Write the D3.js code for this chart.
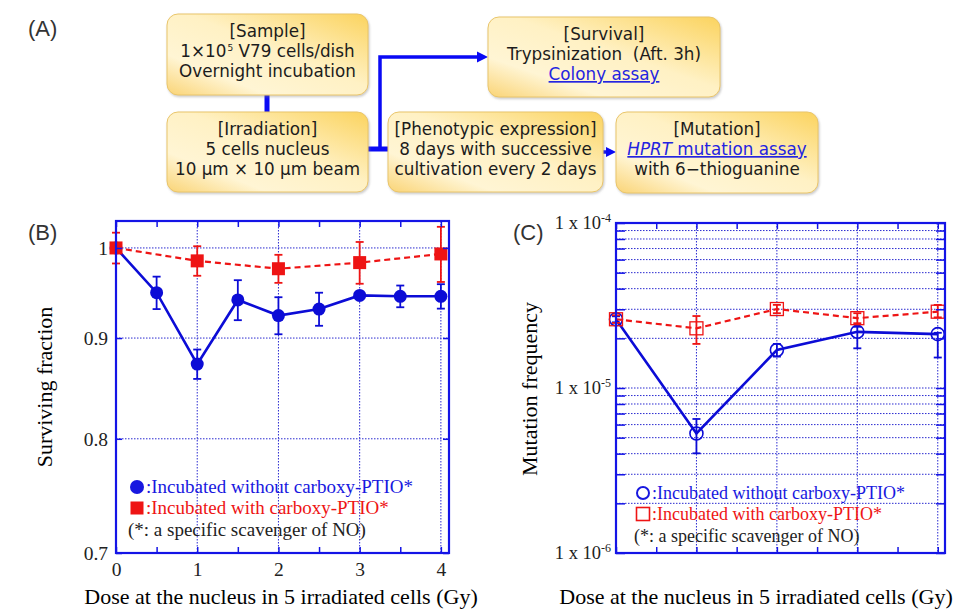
<!DOCTYPE html>
<html>
<head>
<meta charset="utf-8">
<title>Survival and mutation after 5-cell nucleus irradiation</title>
<style>
body { margin: 0; background: #fff; }
svg { display: block; }
.flow text { font-family: "DejaVu Sans", sans-serif; font-size: 16.8px; fill: #1c1c1c; white-space: pre; }
.serif { font-family: "Liberation Serif", "Times New Roman", serif; }
.plabel { font-family: "Liberation Sans", Arial, sans-serif; font-size: 22px; fill: #333; }
.grid line { stroke: #2a2ad0; stroke-width: 1; stroke-dasharray: 1.5,1.5; }
.frame { fill: none; stroke: #1414e6; stroke-width: 2.2; }
.axis path { display: none; }
.axis line { stroke: #1414e6; stroke-width: 1.5; }
.axis text { font-family: "Liberation Serif", "Times New Roman", serif; fill: #222; }
</style>
</head>
<body>
<svg width="955" height="612"></svg>

<script src="https://cdn.jsdelivr.net/npm/d3@7"></script>
<script>

// ---- data ----
// (B) surviving fraction
var doseB = [0, 0.5, 1, 1.5, 2, 2.5, 3, 3.5, 4];
var survWithout = [1.0, 0.949, 0.873, 0.941, 0.924, 0.931, 0.946, 0.945, 0.945];
var survWithoutErr = [0, 0.018, 0.015, 0.022, 0.020, 0.018, 0.004, 0.012, 0.0135];
var doseBWith = [0, 1, 2, 3, 4];
var survWith = [1.0, 0.985, 0.976, 0.983, 0.993];
var survWithErr = [0.018, 0.017, 0.016, 0.024, 0.032];
var survTicks = [0.7, 0.8, 0.9, 1];

// (C) mutation frequency
var doseC = [0, 1, 2, 3, 4];
var mutWithout = [2.61e-5, 5.3e-6, 1.70e-5, 2.19e-5, 2.12e-5];
var mutWithoutLo = [2.50e-5, 4.02e-6, 1.55e-5, 1.74e-5, 1.53e-5];
var mutWithoutHi = [2.72e-5, 6.49e-6, 1.85e-5, 2.35e-5, 2.16e-5];
var mutWith = [2.61e-5, 2.30e-5, 3.01e-5, 2.65e-5, 2.90e-5];
var mutWithLo = [2.48e-5, 1.85e-5, 2.84e-5, 2.47e-5, 2.68e-5];
var mutWithHi = [2.76e-5, 2.73e-5, 3.19e-5, 2.84e-5, 3.19e-5];
var mutTicks = [1e-6, 1e-5, 1e-4];

var doseTicks = [0, 1, 2, 3, 4];
var doseMinor = [0, 0.5, 1, 1.5, 2, 2.5, 3, 3.5, 4];

var xTitle = "Dose at the nucleus in 5 irradiated cells (Gy)";
var legendWithout = ":Incubated without carboxy-PTIO*";
var legendWith = ":Incubated with carboxy-PTIO*";
var legendNote = "(*: a specific scavenger of NO)";

var blue = "#0c0cd6", red = "#ee1414";

var svg = d3.select("svg");
var defs = svg.append("defs");

// ---------------- (A) flow chart ----------------
var grad = defs.append("linearGradient").attr("id", "boxfill")
    .attr("x1", 1).attr("y1", 0).attr("x2", 0).attr("y2", 1);
grad.append("stop").attr("offset", 0).attr("stop-color", "#fbd35e");
grad.append("stop").attr("offset", 0.45).attr("stop-color", "#fff1c4");
grad.append("stop").attr("offset", 0.75).attr("stop-color", "#fff5d4");
grad.append("stop").attr("offset", 1).attr("stop-color", "#fad476");

var shadow = defs.append("filter").attr("id", "shadow")
    .attr("x", "-10%").attr("y", "-10%").attr("width", "130%").attr("height", "130%");
shadow.append("feDropShadow").attr("dx", 1).attr("dy", 1.5).attr("stdDeviation", 1.2)
    .attr("flood-color", "#888").attr("flood-opacity", 0.45);

// each line is a list of segments
var boxes = [
  {x: 167, y: 14, w: 201, h: 81, lines: [
    [{t: "[Sample]"}],
    [{t: "1×10"}, {t: "5", sup: true}, {t: " V79 cells/dish"}],
    [{t: "Overnight incubation"}]]},
  {x: 167, y: 112, w: 201, h: 80, lines: [
    [{t: "[Irradiation]"}],
    [{t: "5 cells nucleus"}],
    [{t: "10 μm × 10 μm beam"}]]},
  {x: 388, y: 112, w: 215, h: 80, lines: [
    [{t: "[Phenotypic expression]"}],
    [{t: "8 days with successive"}],
    [{t: "cultivation every 2 days"}]]},
  {x: 488, y: 17, w: 232, h: 80, lines: [
    [{t: "[Survival]"}],
    [{t: "Trypsinization\u00a0 (Aft. 3h)"}],
    [{t: "Colony assay", link: true}]]},
  {x: 616, y: 112, w: 202, h: 81, lines: [
    [{t: "[Mutation]"}],
    [{t: "HPRT", link: true, italic: true}, {t: " mutation assay", link: true}],
    [{t: "with 6−thioguanine"}]]}
];

var flow = svg.append("g").attr("class", "flow");

// connectors first, boxes on top
var conn = flow.append("g").attr("stroke", "#0a0af5").attr("fill", "none");
conn.append("line").attr("x1", 267).attr("x2", 267).attr("y1", 94).attr("y2", 113).attr("stroke-width", 5);
conn.append("line").attr("x1", 367).attr("x2", 389).attr("y1", 149).attr("y2", 149).attr("stroke-width", 5);
conn.append("path").attr("d", "M380,151 V57 H480").attr("stroke-width", 3.5);
conn.append("line").attr("x1", 602).attr("x2", 609).attr("y1", 152).attr("y2", 152).attr("stroke-width", 3.5);
flow.append("path").attr("d", "M488,57 L477,51.5 L477,62.5 Z").attr("fill", "#0a0af5");
flow.append("path").attr("d", "M616,152 L606,147 L606,157 Z").attr("fill", "#0a0af5");

var box = flow.selectAll("g.box").data(boxes).enter().append("g").attr("class", "box");
box.append("rect")
    .attr("x", function(d) { return d.x; }).attr("y", function(d) { return d.y; })
    .attr("width", function(d) { return d.w; }).attr("height", function(d) { return d.h; })
    .attr("rx", 11).attr("ry", 11)
    .attr("fill", "url(#boxfill)").attr("stroke", "#e9c56a").attr("stroke-width", 1)
    .attr("filter", "url(#shadow)");

box.each(function(d) {
  var g = d3.select(this);
  d.lines.forEach(function(segs, i) {
    var t = g.append("text")
        .attr("x", d.x + d.w / 2)
        .attr("y", d.y + 23 + 20 * i)
        .attr("text-anchor", "middle");
    segs.forEach(function(s) {
      var sp = t.append("tspan").text(s.t);
      if (s.sup) sp.attr("font-size", "9px").attr("dy", "-6").attr("dx", "1");
      if (s.link) sp.style("fill", "#2424e0").style("text-decoration", "underline");
      if (s.italic) sp.style("font-style", "italic");
    });
    // bring baseline back after a superscript
    if (segs.some(function(s) { return s.sup; })) {
      t.selectAll("tspan").filter(function(s, j) { return j === 2; }).attr("dy", "6");
    }
  });
});

svg.append("text").attr("class", "plabel").attr("x", 28).attr("y", 36).text("(A)");

// ---------------- helpers ----------------
function grid(g, xs, ys, x, y) {
  var gg = g.append("g").attr("class", "grid");
  gg.selectAll("line.v").data(xs).enter().append("line")
      .attr("x1", x).attr("x2", x)
      .attr("y1", y.range()[1]).attr("y2", y.range()[0]);
  gg.selectAll("line.h").data(ys).enter().append("line")
      .attr("x1", x.range()[0]).attr("x2", x.range()[1])
      .attr("y1", y).attr("y2", y)
      .attr("stroke", "#1a1a90");
}

function series(g, xs, vs, lo, hi, x, y, o) {
  var pts = xs.map(function(d, i) { return {x: d, v: vs[i], lo: lo[i], hi: hi[i]}; });
  g.append("path").datum(pts)
      .attr("fill", "none").attr("stroke", o.color).attr("stroke-width", o.lw)
      .attr("stroke-dasharray", o.dash || null)
      .attr("d", d3.line().x(function(d) { return x(d.x); }).y(function(d) { return y(d.v); }));
  var eb = g.append("g").attr("stroke", o.color).attr("stroke-width", 1.8);
  pts.forEach(function(p) {
    if (p.hi <= p.lo) return;
    var cx = x(p.x);
    eb.append("line").attr("x1", cx).attr("x2", cx).attr("y1", y(p.hi)).attr("y2", y(p.lo));
    eb.append("line").attr("x1", cx - 4).attr("x2", cx + 4).attr("y1", y(p.hi)).attr("y2", y(p.hi));
    eb.append("line").attr("x1", cx - 4).attr("x2", cx + 4).attr("y1", y(p.lo)).attr("y2", y(p.lo));
  });
  var m = g.append("g");
  if (o.shape === "circle") {
    m.selectAll("circle").data(pts).enter().append("circle")
        .attr("cx", function(d) { return x(d.x); }).attr("cy", function(d) { return y(d.v); })
        .attr("r", o.size)
        .attr("fill", o.open ? "none" : o.color).attr("stroke", o.color)
        .attr("stroke-width", o.open ? 1.6 : 0);
  } else {
    m.selectAll("rect").data(pts).enter().append("rect")
        .attr("x", function(d) { return x(d.x) - o.size; }).attr("y", function(d) { return y(d.v) - o.size; })
        .attr("width", o.size * 2).attr("height", o.size * 2)
        .attr("fill", o.open ? "none" : o.color).attr("stroke", o.color)
        .attr("stroke-width", o.open ? 1.3 : 0);
  }
}

function frameAxes(g, x, y, yTickVals, ySize, xLabels) {
  g.append("g").attr("class", "axis")
      .attr("transform", "translate(0," + y.range()[0] + ")")
      .call(d3.axisBottom(x).tickValues(doseMinor).tickSizeInner(-6).tickSizeOuter(0).tickPadding(9)
        .tickFormat(function(d) { return xLabels && Number.isInteger(d) ? d : ""; }))
      .selectAll("text").attr("font-size", 19.5);
  g.append("g").attr("class", "axis")
      .attr("transform", "translate(0," + y.range()[1] + ")")
      .call(d3.axisTop(x).tickValues(doseMinor).tickSizeInner(-6).tickSizeOuter(0).tickFormat(""));
  g.append("g").attr("class", "axis")
      .attr("transform", "translate(" + x.range()[1] + ",0)")
      .call(d3.axisRight(y).tickValues(yTickVals).tickSizeInner(-ySize).tickSizeOuter(0).tickFormat(""));
  g.append("rect").attr("class", "frame")
      .attr("x", x.range()[0]).attr("y", y.range()[1])
      .attr("width", x.range()[1] - x.range()[0]).attr("height", y.range()[0] - y.range()[1]);
}

function legend(g, x0, y0, open, fs) {
  var items = [
    {label: legendWithout, color: "#1818e0", kind: "circle"},
    {label: legendWith, color: red, kind: "square"}
  ];
  items.forEach(function(it, i) {
    var cy = y0 + 21 * i;
    if (it.kind === "circle") {
      g.append("circle").attr("cx", x0).attr("cy", cy).attr("r", open ? 6 : 7)
          .attr("fill", open ? "none" : it.color).attr("stroke", it.color).attr("stroke-width", open ? 2 : 0);
    } else {
      g.append("rect").attr("x", x0 - 6.5).attr("y", cy - 6.5).attr("width", 13).attr("height", 13)
          .attr("fill", open ? "none" : it.color).attr("stroke", it.color).attr("stroke-width", open ? 1.6 : 0);
    }
    g.append("text").attr("class", "serif").attr("x", x0 + 9).attr("y", cy + 6)
        .attr("font-size", fs).attr("fill", it.color).text(it.label);
  });
  g.append("text").attr("class", "serif").attr("x", x0 - 9).attr("y", y0 + 49)
      .attr("font-size", fs).attr("fill", "#222").text(legendNote);
}

// ---------------- (B) surviving fraction ----------------
var xB = d3.scaleLinear().domain([0, 4.1]).range([116, 449]);
var yB = d3.scaleLog().domain([0.7, 1.032]).range([553, 221]);
var gB = svg.append("g");

grid(gB, doseTicks.slice(1), survTicks.slice(1), xB, yB);
series(gB, doseB, survWithout,
    survWithout.map(function(v, i) { return v - survWithoutErr[i]; }),
    survWithout.map(function(v, i) { return v + survWithoutErr[i]; }),
    xB, yB, {color: blue, lw: 2.6, shape: "circle", size: 6.5});
series(gB, doseBWith, survWith,
    survWith.map(function(v, i) { return v - survWithErr[i]; }),
    survWith.map(function(v, i) { return v + survWithErr[i]; }),
    xB, yB, {color: red, lw: 2.2, dash: "6,4", shape: "square", size: 6.5});

gB.append("g").attr("class", "axis")
    .attr("transform", "translate(" + xB.range()[0] + ",0)")
    .call(d3.axisLeft(yB).tickValues(survTicks).tickSizeInner(-6).tickSizeOuter(0).tickPadding(8)
      .tickFormat(function(d) { return d === 1 ? "1" : d3.format(".1f")(d); }))
    .selectAll("text").attr("font-size", 19.5);
frameAxes(gB, xB, yB, survTicks, 6, true);
legend(gB, 137, 487, false, 19);

gB.append("text").attr("class", "serif").attr("font-size", 22)
    .attr("text-anchor", "middle").attr("x", 281).attr("y", 604).text(xTitle);
gB.append("text").attr("class", "serif").attr("font-size", 22)
    .attr("text-anchor", "middle")
    .attr("transform", "translate(52,387) rotate(-90)").text("Surviving fraction");
svg.append("text").attr("class", "plabel").attr("x", 28).attr("y", 240).text("(B)");

// ---------------- (C) mutation frequency ----------------
var xC = d3.scaleLinear().domain([0, 4.09]).range([616, 945]);
var yC = d3.scaleLog().domain([1e-6, 1e-4]).range([553, 223]);
var gC = svg.append("g");
var minorC = yC.ticks();

grid(gC, doseTicks.slice(1), minorC.filter(function(d) { return d > 1e-6 && d < 1e-4; }), xC, yC);
series(gC, doseC, mutWithout, mutWithoutLo, mutWithoutHi, xC, yC,
    {color: blue, lw: 2.6, shape: "circle", size: 6.5, open: true});
series(gC, doseC, mutWith, mutWithLo, mutWithHi, xC, yC,
    {color: red, lw: 2.2, dash: "6,4", shape: "square", size: 6.5, open: true});

var yAxC = gC.append("g").attr("class", "axis")
    .attr("transform", "translate(" + xC.range()[0] + ",0)")
    .call(d3.axisLeft(yC).tickValues(minorC).tickSizeInner(-9).tickSizeOuter(0).tickPadding(5)
      .tickFormat(function(d) { return mutTicks.indexOf(d) >= 0 ? "1 x 10" : ""; }));
yAxC.selectAll("text").attr("font-size", 18.5).each(function(d) {
  if (mutTicks.indexOf(d) < 0) return;
  d3.select(this).append("tspan").attr("font-size", 12).attr("dy", "-0.6em")
      .text(String(Math.round(Math.log10(d))));
});
frameAxes(gC, xC, yC, minorC, 9, false);
legend(gC, 643, 493, true, 18);

gC.append("text").attr("class", "serif").attr("font-size", 22)
    .attr("text-anchor", "middle").attr("x", 756).attr("y", 604).text(xTitle);
gC.append("text").attr("class", "serif").attr("font-size", 22)
    .attr("text-anchor", "middle")
    .attr("transform", "translate(537,389) rotate(-90)").text("Mutation frequency");
svg.append("text").attr("class", "plabel").attr("x", 513).attr("y", 240).text("(C)");

</script>
</body>
</html>
